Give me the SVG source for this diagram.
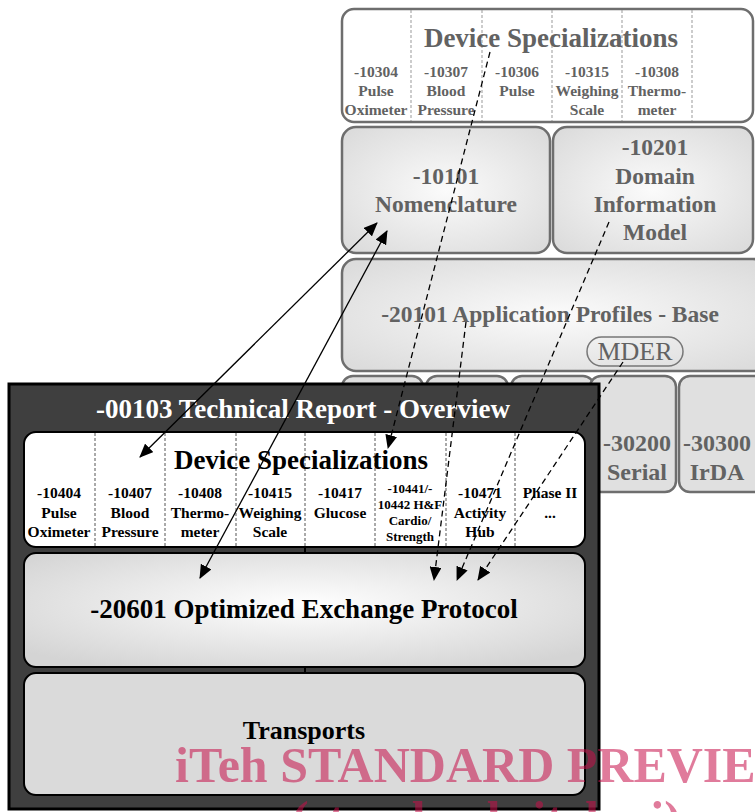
<svg xmlns="http://www.w3.org/2000/svg" width="755" height="812" viewBox="0 0 755 812">
<defs>
<radialGradient id="gBack" cx="50%" cy="50%" r="65%">
<stop offset="0" stop-color="#fbfbfb"/><stop offset="1" stop-color="#dcdcdc"/>
</radialGradient>
<radialGradient id="gOpt" cx="50%" cy="45%" r="65%">
<stop offset="0" stop-color="#ffffff"/><stop offset="1" stop-color="#d4d4d4"/>
</radialGradient>
<marker id="ah" markerUnits="userSpaceOnUse" markerWidth="14" markerHeight="12" refX="13" refY="6" orient="auto-start-reverse">
<path d="M0,0 L14,6 L0,12 Z" fill="#000"/>
</marker>
<style>
.bk{fill:#626262;font-family:"Liberation Serif","Times New Roman",serif;font-weight:bold;text-anchor:middle}
.fr{fill:#000;font-family:"Liberation Serif","Times New Roman",serif;font-weight:bold;text-anchor:middle}
.bbox{stroke:#6e6e6e;stroke-width:2.5}
.div{stroke:#999;stroke-width:1;stroke-dasharray:3 2}
.divk{stroke:#555;stroke-width:1;stroke-dasharray:3 2}
.ibox{stroke:#000;stroke-width:2}
.con{fill:none;stroke:#000;stroke-width:1.3}
.dash{stroke-dasharray:6 4}
</style>
</defs>
<rect width="755" height="812" fill="#fff"/>

<g id="back-device-specializations">
<rect class="bbox" x="342" y="9" width="411" height="113" rx="12" fill="#fff"/>
<line class="div" x1="411" y1="10" x2="411" y2="121"/>
<line class="div" x1="482" y1="10" x2="482" y2="121"/>
<line class="div" x1="552" y1="10" x2="552" y2="121"/>
<line class="div" x1="622" y1="10" x2="622" y2="121"/>
<line class="div" x1="692" y1="10" x2="692" y2="121"/>
<text class="bk" x="551" y="47" font-size="27">Device Specializations</text>
<g font-size="15.5">
<text class="bk" x="376" y="77">-10304</text><text class="bk" x="376" y="96">Pulse</text><text class="bk" x="376" y="115">Oximeter</text>
<text class="bk" x="446" y="77">-10307</text><text class="bk" x="446" y="96">Blood</text><text class="bk" x="446" y="115">Pressure</text>
<text class="bk" x="517" y="77">-10306</text><text class="bk" x="517" y="96">Pulse</text>
<text class="bk" x="587" y="77">-10315</text><text class="bk" x="587" y="96">Weighing</text><text class="bk" x="587" y="115">Scale</text>
<text class="bk" x="657" y="77">-10308</text><text class="bk" x="657" y="96">Thermo-</text><text class="bk" x="657" y="115">meter</text>
</g>
</g>

<g id="nomenclature">
<rect class="bbox" x="342" y="127" width="208" height="126" rx="14" fill="url(#gBack)"/>
<text class="bk" x="446" y="184" font-size="23.5">-10101</text>
<text class="bk" x="446" y="212" font-size="23.5">Nomenclature</text>
</g>

<g id="domain-information-model">
<rect class="bbox" x="553" y="127" width="200" height="126" rx="14" fill="url(#gBack)"/>
<text class="bk" x="655" y="155" font-size="23.5">-10201</text>
<text class="bk" x="655" y="184" font-size="23.5">Domain</text>
<text class="bk" x="655" y="212" font-size="23.5">Information</text>
<text class="bk" x="655" y="240" font-size="23.5">Model</text>
</g>

<g id="application-profiles">
<rect class="bbox" x="342" y="259" width="425" height="112" rx="14" fill="url(#gBack)"/>
<text class="bk" x="550" y="322" font-size="23.5">-20101 Application Profiles - Base</text>
<rect x="587" y="337" width="96" height="29" rx="14.5" fill="none" stroke="#777" stroke-width="1.5"/>
<text x="635" y="360" font-size="26" fill="#626262" text-anchor="middle" font-family="'Liberation Serif','Times New Roman',serif">MDER</text>
</g>

<g id="transport-boxes">
<rect class="bbox" x="342" y="376" width="81" height="116" rx="11" fill="#e0e0e0"/>
<rect class="bbox" x="426" y="376" width="82" height="116" rx="11" fill="#e0e0e0"/>
<rect class="bbox" x="511" y="376" width="83" height="116" rx="11" fill="#e0e0e0"/>
<rect class="bbox" x="590" y="376" width="86" height="116" rx="11" fill="#e0e0e0"/>
<rect class="bbox" x="679" y="376" width="90" height="116" rx="11" fill="#e0e0e0"/>
</g>
<g id="serial">
<text class="bk" x="637" y="451" font-size="24">-30200</text>
<text class="bk" x="637" y="480" font-size="24">Serial</text>
</g>
<g id="irda">
<text class="bk" x="717" y="451" font-size="24">-30300</text>
<text class="bk" x="717" y="480" font-size="24">IrDA</text>
</g>

<g id="technical-report-overview">
<rect x="9" y="384" width="590" height="425" fill="#3f3f3f" stroke="#000" stroke-width="3"/>
<text x="303" y="418" font-size="27" fill="#fff" text-anchor="middle" font-weight="bold" font-family="'Liberation Serif','Times New Roman',serif">-00103 Technical Report - Overview</text>
<line x1="305" y1="546" x2="305" y2="554" stroke="#000" stroke-width="2"/>
<line x1="305" y1="666" x2="305" y2="674" stroke="#000" stroke-width="2"/>
</g>

<g id="device-specializations">
<rect class="ibox" x="24" y="432" width="561" height="115" rx="12" fill="#fff"/>
<line class="divk" x1="95" y1="433" x2="95" y2="546"/>
<line class="divk" x1="165" y1="433" x2="165" y2="546"/>
<line class="divk" x1="236" y1="433" x2="236" y2="546"/>
<line class="divk" x1="305" y1="433" x2="305" y2="546"/>
<line class="divk" x1="375" y1="433" x2="375" y2="546"/>
<line class="divk" x1="446" y1="433" x2="446" y2="546"/>
<line class="divk" x1="515" y1="433" x2="515" y2="546"/>
<text class="fr" x="301" y="469" font-size="27">Device Specializations</text>
<g font-size="15.5">
<text class="fr" x="59" y="498">-10404</text><text class="fr" x="59" y="518">Pulse</text><text class="fr" x="59" y="537">Oximeter</text>
<text class="fr" x="130" y="498">-10407</text><text class="fr" x="130" y="518">Blood</text><text class="fr" x="130" y="537">Pressure</text>
<text class="fr" x="200" y="498">-10408</text><text class="fr" x="200" y="518">Thermo-</text><text class="fr" x="200" y="537">meter</text>
<text class="fr" x="270" y="498">-10415</text><text class="fr" x="270" y="518">Weighing</text><text class="fr" x="270" y="537">Scale</text>
<text class="fr" x="340" y="498">-10417</text><text class="fr" x="340" y="518">Glucose</text>
<text class="fr" x="480" y="498">-10471</text><text class="fr" x="480" y="518">Activity</text><text class="fr" x="480" y="537">Hub</text>
<text class="fr" x="550" y="498">Phase II</text><text class="fr" x="550" y="518">...</text>
</g>
<g font-size="13">
<text class="fr" x="410" y="493">-10441/-</text>
<text class="fr" x="410" y="509">10442 H&amp;F</text>
<text class="fr" x="410" y="525">Cardio/</text>
<text class="fr" x="410" y="541">Strength</text>
</g>
</g>

<g id="optimized-exchange-protocol">
<rect class="ibox" x="24" y="553" width="561" height="114" rx="12" fill="url(#gOpt)"/>
<text class="fr" x="304" y="618" font-size="27">-20601 Optimized Exchange Protocol</text>
</g>

<g id="transports">
<rect class="ibox" x="24" y="673" width="561" height="122" rx="12" fill="#dadada"/>
<text class="fr" x="304" y="739" font-size="26">Transports</text>
</g>

<g id="connectors">
<line class="con" x1="377" y1="223" x2="140" y2="457" marker-start="url(#ah)" marker-end="url(#ah)"/>
<line class="con" x1="387" y1="231" x2="200" y2="578" marker-start="url(#ah)" marker-end="url(#ah)"/>
<line class="con dash" x1="490" y1="52" x2="388" y2="448" marker-end="url(#ah)"/>
<line class="con dash" x1="466" y1="322" x2="434" y2="580" marker-end="url(#ah)"/>
<line class="con dash" x1="609" y1="222" x2="457" y2="580" marker-end="url(#ah)"/>
<line class="con dash" x1="623" y1="362" x2="478" y2="580" marker-end="url(#ah)"/>
</g>

<g id="watermark" fill="#c70f49" fill-opacity="0.55" font-family="'Liberation Serif','Times New Roman',serif" font-weight="bold" font-size="50">
<text x="175" y="782">iTeh STANDARD PREVIEW</text>
<text x="292" y="836">(standards.iteh.ai)</text>
</g>
</svg>
